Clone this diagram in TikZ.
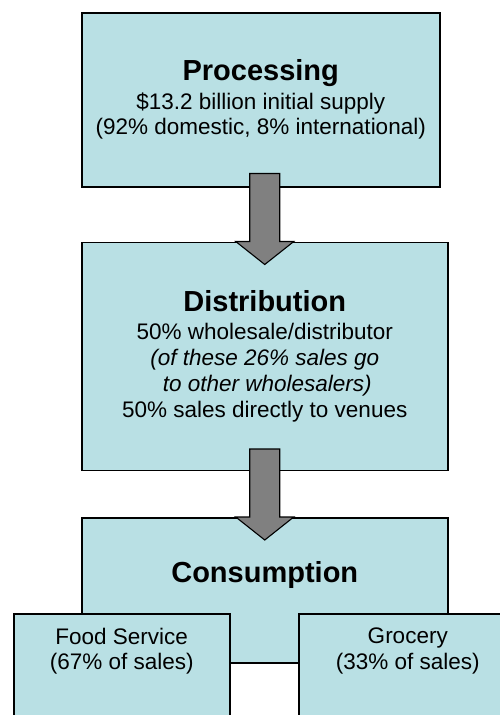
\documentclass[tikz,border=0pt]{standalone}
\usepackage{fontspec}
\setmainfont{Liberation Sans}
\usetikzlibrary{positioning,calc}

\definecolor{boxblue}{RGB}{185,224,228}
\definecolor{arrowgray}{RGB}{128,128,128}

\newcommand{\boxtitle}[1]{{\fontsize{29}{31}\selectfont\bfseries #1}}
% block arrow from #1 into #2, shaft starts #3 above the bottom of #1
\newcommand{\blockarrow}[3]{%
 \draw[arrowbody] ($(#1.south -| #2.north)+(-15,#3)$) -- ++(30,0)
 -- ($(#2.north)+(15,0)$) -- ++(14,0) -- ($(#2.north)+(0,-23)$)
 -- ($(#2.north)+(-29,0)$) -- ++(14,0) -- cycle;}

\begin{document}
\begin{tikzpicture}[x=1pt,y=1pt,
 box/.style={draw=black,line width=1.5pt,fill=boxblue,anchor=north west,inner sep=0pt},
 txt/.style={align=center,inner sep=0pt,font=\fontsize{22.5}{25.7}\selectfont},
 arrowbody/.style={draw=black,line width=1.1pt,fill=arrowgray,line join=miter}]

 \useasboundingbox (0,0) rectangle (500,-715);
 \clip (0,0) rectangle (500,-715);

 \node[box,minimum width=358,minimum height=174] (Proc) at (81,-12) {};
 \node[box,minimum width=366,minimum height=228,below=54pt of Proc.south west,anchor=north west] (Dist) {};
 \node[box,minimum width=366,minimum height=145,below=46pt of Dist.south west,anchor=north west] (Cons) {};
 \node[box,minimum width=216,minimum height=150] (Food) at (13,-613) {};
 \node[box,minimum width=218,minimum height=150] (Groc) at (298,-613) {};

 \node[txt] (ProcTxt) at (Proc.center) {\boxtitle{Processing}\\[2.5pt]
 \$13.2 billion initial supply\\
 (92\% domestic, 8\% international)};
 \node[txt] (DistTxt) at (Dist.center) {\boxtitle{Distribution}\\[2.5pt]
 50\% wholesale/distributor\\
 \textit{(of these 26\% sales go}\\
 \hspace*{5pt}\textit{to other wholesalers)}\\
 50\% sales directly to venues};
 \node[txt] (ConsTxt) at ($(Cons.north)+(0,-58)$) {\boxtitle{Consumption}};
 \node[txt,anchor=north] (FoodTxt) at ($(Food.north)+(0,-14.5)$) {Food Service\\(67\% of sales)};
 \node[txt,anchor=north] (GrocTxt) at ($(Groc.north)+(0,-14.5)$) {Grocery\\(33\% of sales)};

 \blockarrow{Proc}{Dist}{14}
 \blockarrow{Dist}{Cons}{22}
\end{tikzpicture}
\end{document}
